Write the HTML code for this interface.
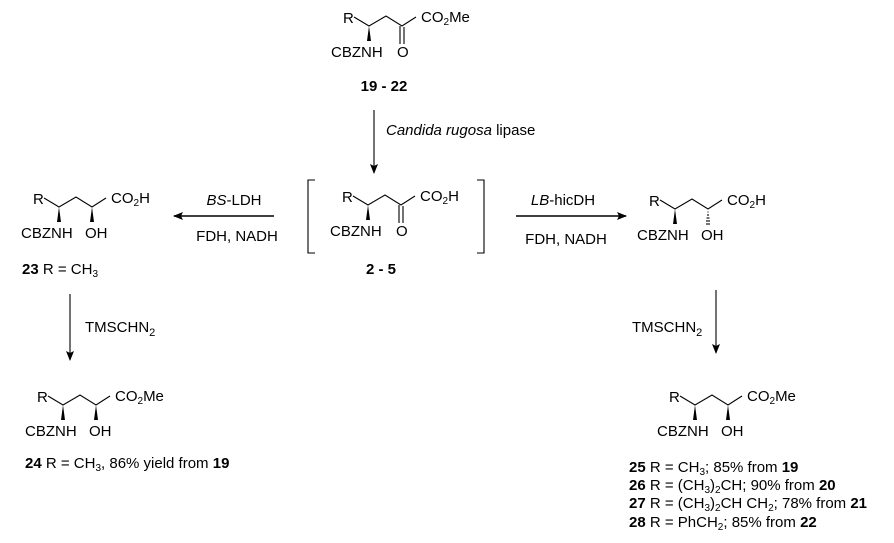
<!DOCTYPE html>
<html><head><meta charset="utf-8"><style>
html,body{margin:0;padding:0;background:#fff;}
svg{display:block;font-family:"Liberation Sans",Arial,sans-serif;font-size:15px;fill:#000;}
line,polyline{stroke:#000;stroke-width:1.1;fill:none;}
</style></head><body>
<svg width="894" height="543" viewBox="0 0 894 543" xmlns="http://www.w3.org/2000/svg">
<defs>
<g id="base">
  <text x="-26" y="-3">R</text>
  <polyline points="-15,-9 0,0 17,-10 33,0 47,-9"/>
  <polygon points="0,0 -2,15 2,15" style="fill:#000;stroke:none"/>
  <text x="-38" y="31">CBZNH</text>
</g>
<g id="keto">
  <use href="#base"/>
  <line x1="31" y1="0" x2="31" y2="18"/>
  <line x1="35" y1="1" x2="35" y2="18"/>
  <text x="28" y="31">O</text>
</g>
<g id="hydS">
  <use href="#base"/>
  <polygon points="33,0 31,15 35,15" style="fill:#000;stroke:none"/>
  <text x="26" y="31">OH</text>
</g>
<g id="hydR">
  <use href="#base"/>
  <g style="stroke:#000;stroke-width:1">
  <line x1="32.5" y1="3" x2="33.5" y2="3"/>
  <line x1="32" y1="6" x2="34" y2="6"/>
  <line x1="31.5" y1="9" x2="34.5" y2="9"/>
  <line x1="31" y1="12" x2="35" y2="12"/>
  <line x1="31" y1="15" x2="35" y2="15"/>
  </g>
  <text x="26" y="31">OH</text>
</g>
<marker id="ah" markerWidth="10" markerHeight="8" refX="9" refY="4" orient="auto" markerUnits="userSpaceOnUse">
  <path d="M0,0 L10,4 L0,8 L2,4 Z" style="fill:#000"/>
</marker>
</defs>

<!-- top -->
<g transform="translate(369,26)">
  <use href="#keto"/>
  <text x="52" y="-4">CO<tspan dy="3" font-size="10">2</tspan><tspan dy="-3">Me</tspan></text>
</g>
<text x="384" y="91" text-anchor="middle" font-weight="bold">19 - 22</text>

<line x1="374" y1="110" x2="374" y2="173" marker-end="url(#ah)"/>
<text x="386" y="135"><tspan font-style="italic">Candida rugosa</tspan> lipase</text>

<!-- middle -->
<polyline points="315,180 308,180 308,253 315,253"/>
<polyline points="477,180 484,180 484,253 477,253"/>
<g transform="translate(368,205)">
  <use href="#keto"/>
  <text x="52" y="-4">CO<tspan dy="3" font-size="10">2</tspan><tspan dy="-3">H</tspan></text>
</g>
<text x="381" y="274" text-anchor="middle" font-weight="bold">2 - 5</text>

<!-- left arrow -->
<line x1="274" y1="216" x2="174" y2="216" marker-end="url(#ah)" style="stroke-width:1.6"/>
<text x="234" y="205" text-anchor="middle"><tspan font-style="italic">BS</tspan>-LDH</text>
<text x="237" y="241" text-anchor="middle">FDH, NADH</text>

<!-- right arrow -->
<line x1="516" y1="216" x2="626" y2="216" marker-end="url(#ah)" style="stroke-width:1.6"/>
<text x="563" y="205" text-anchor="middle"><tspan font-style="italic">LB</tspan>-hicDH</text>
<text x="566" y="244" text-anchor="middle">FDH, NADH</text>

<!-- 23 -->
<g transform="translate(59,207)">
  <use href="#hydS"/>
  <text x="52" y="-4">CO<tspan dy="3" font-size="10">2</tspan><tspan dy="-3">H</tspan></text>
</g>
<text x="22" y="274"><tspan font-weight="bold">23</tspan>  R = CH<tspan dy="3" font-size="10">3</tspan></text>

<!-- right product -->
<g transform="translate(675,209)">
  <use href="#hydR"/>
  <text x="52" y="-4">CO<tspan dy="3" font-size="10">2</tspan><tspan dy="-3">H</tspan></text>
</g>

<!-- lower arrows -->
<line x1="70" y1="294" x2="70" y2="360" marker-end="url(#ah)"/>
<text x="85" y="332">TMSCHN<tspan dy="4" font-size="11">2</tspan></text>
<line x1="716" y1="290" x2="716" y2="353" marker-end="url(#ah)"/>
<text x="632" y="332">TMSCHN<tspan dy="4" font-size="11">2</tspan></text>

<!-- 24 -->
<g transform="translate(63,405)">
  <use href="#hydS"/>
  <text x="52" y="-4">CO<tspan dy="3" font-size="10">2</tspan><tspan dy="-3">Me</tspan></text>
</g>
<text x="25" y="468"><tspan font-weight="bold">24</tspan>  R = CH<tspan dy="3" font-size="10">3</tspan><tspan dy="-3">,  86% yield from </tspan><tspan font-weight="bold">19</tspan></text>

<!-- 25 -->
<g transform="translate(695,405)">
  <use href="#hydS"/>
  <text x="52" y="-4">CO<tspan dy="3" font-size="10">2</tspan><tspan dy="-3">Me</tspan></text>
</g>
<text x="629" y="472"><tspan font-weight="bold">25</tspan>  R = CH<tspan dy="3" font-size="10">3</tspan><tspan dy="-3">; 85% from </tspan><tspan font-weight="bold">19</tspan></text>
<text x="629" y="490"><tspan font-weight="bold">26</tspan>  R  = (CH<tspan dy="3" font-size="10">3</tspan><tspan dy="-3">)</tspan><tspan dy="3" font-size="10">2</tspan><tspan dy="-3">CH; 90% from </tspan><tspan font-weight="bold">20</tspan></text>
<text x="629" y="508"><tspan font-weight="bold">27</tspan>  R = (CH<tspan dy="3" font-size="10">3</tspan><tspan dy="-3">)</tspan><tspan dy="3" font-size="10">2</tspan><tspan dy="-3">CH CH</tspan><tspan dy="3" font-size="10">2</tspan><tspan dy="-3">; 78% from </tspan><tspan font-weight="bold">21</tspan></text>
<text x="629" y="527"><tspan font-weight="bold">28</tspan>  R = PhCH<tspan dy="3" font-size="10">2</tspan><tspan dy="-3">; 85% from </tspan><tspan font-weight="bold">22</tspan></text>
</svg>
</body></html>
